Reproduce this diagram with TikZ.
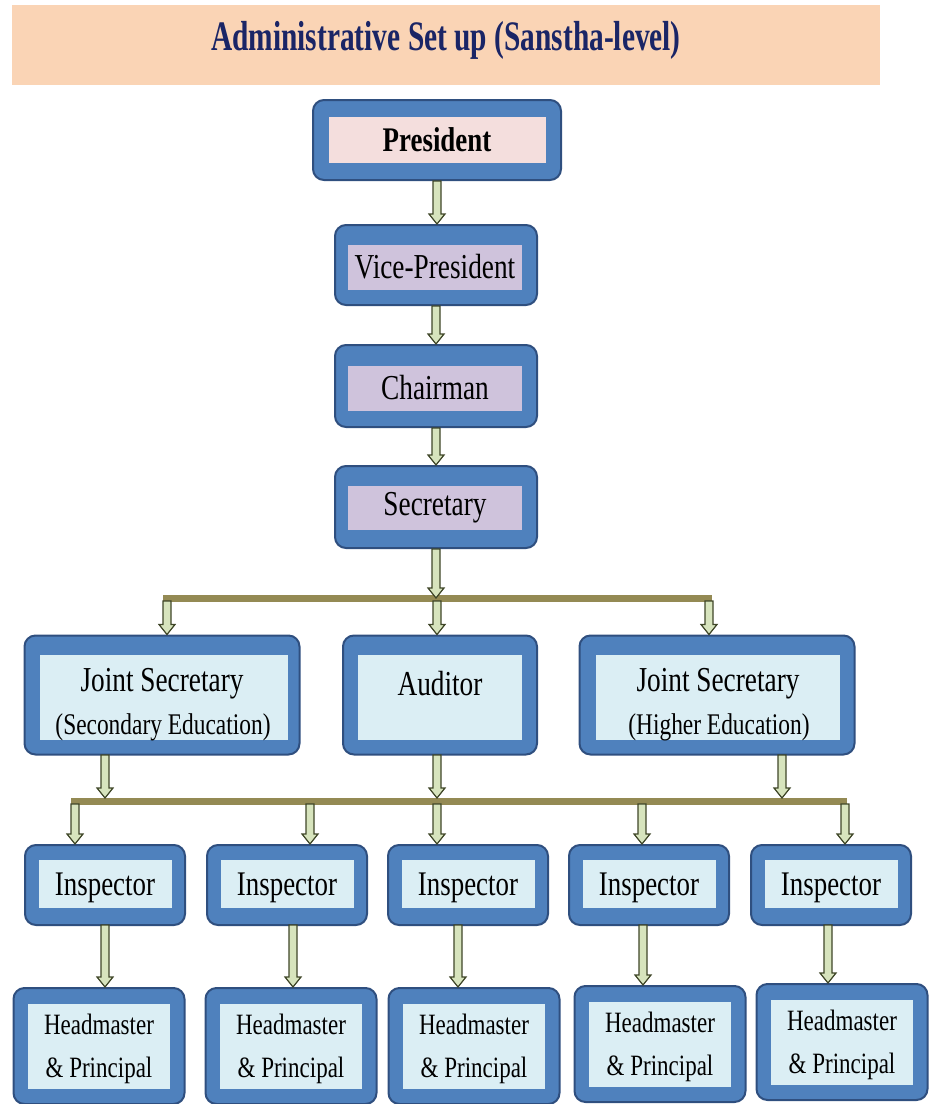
\documentclass[tikz,border=0pt]{standalone}
\usepackage{fontspec}
\setmainfont{Liberation Serif}[FakeStretch=0.78]
\newfontfamily\titlefont{Liberation Serif}[FakeStretch=0.70]
\usetikzlibrary{calc}

\definecolor{bandfill}{HTML}{FAD4B5}
\definecolor{titlecol}{HTML}{1A2566}
\definecolor{boxfill}{HTML}{4F81BD}
\definecolor{boxline}{HTML}{2F4F7F}
\definecolor{pinkfill}{HTML}{F4DEDD}
\definecolor{lilacfill}{HTML}{CFC3DC}
\definecolor{bluefill}{HTML}{DBEEF4}
\definecolor{barcol}{HTML}{948A54}
\definecolor{arrowfill}{HTML}{D7E4BD}
\definecolor{arrowline}{HTML}{3F4628}

\tikzset{
  outer/.style={draw=boxline, line width=2pt, fill=boxfill, rounded corners=11pt, inner sep=0pt},
  inner/.style={fill=#1, inner sep=0pt},
  bar/.style={draw=barcol, line width=7pt},
  blockarrow/.style={draw=arrowline, fill=arrowfill, line width=1.2pt},
}

% block arrow straight down, x taken from the first point
\newcommand{\dropto}[2]{%
  \draw[blockarrow] let \p1=(#1), \p2=(#2) in
    (\x1-4pt,\y1) -- (\x1-4pt,\y2+10pt) -- (\x1-8pt,\y2+10pt) -- (\x1,\y2)
    -- (\x1+8pt,\y2+10pt) -- (\x1+4pt,\y2+10pt) -- (\x1+4pt,\y1) -- cycle;}

\begin{document}
\begin{tikzpicture}[x=1pt, y=-1pt]
  \useasboundingbox (0,0) rectangle (930,1104);

  % heading
  \fill[bandfill] (12,5) rectangle (880,85);
  \node[text=titlecol, font=\titlefont\fontsize{42}{44}\selectfont\bfseries] (title) at (446,40) {Administrative Set up (Sanstha-level)};

  % top chain
  \node[outer, minimum width=248, minimum height=80] (pres) at (437,140) {};
  \node[inner=pinkfill, minimum width=217, minimum height=46, font=\fontsize{34.5}{36}\selectfont\bfseries] (pres-t) at (pres) {President};

  \node[outer, minimum width=202, minimum height=80] (vp) at (436,265) {};
  \node[inner=lilacfill, minimum width=174, minimum height=45, font=\fontsize{35}{37}\selectfont] (vp-t) at (435,267) {Vice-President};

  \node[outer, minimum width=202, minimum height=82] (chair) at (436,386) {};
  \node[inner=lilacfill, minimum width=174, minimum height=45, font=\fontsize{35}{37}\selectfont] (chair-t) at (435,388) {Chairman};

  \node[outer, minimum width=202, minimum height=82] (sec) at (436,507) {};
  \node[inner=lilacfill, minimum width=174, minimum height=44, font=\fontsize{35}{37}\selectfont] (sec-t) at (435,508) {Secretary};

  \dropto{pres.south}{vp.north}
  \dropto{vp.south}{chair.north}
  \dropto{chair.south}{sec.north}

  % second level
  \node[outer, minimum width=275, minimum height=119] (js1) at (162,695) {};
  \node[inner=bluefill, minimum width=248, minimum height=85] (js1-t) at (164,697) {};
  \node[font=\fontsize{35}{37}\selectfont] (js1-a) at (162,684) {Joint Secretary};
  \node[font=\fontsize{30}{32}\selectfont] (js1-b) at (163,727) {(Secondary Education)};

  \node[outer, minimum width=194, minimum height=119] (aud) at (440,695) {};
  \node[inner=bluefill, minimum width=164, minimum height=85] (aud-t) at (440,697) {};
  \node[font=\fontsize{35}{37}\selectfont] (aud-a) at (440,684) {Auditor};

  \node[outer, minimum width=275, minimum height=119] (js2) at (717,695) {};
  \node[inner=bluefill, minimum width=244, minimum height=85] (js2-t) at (718,697) {};
  \node[font=\fontsize{35}{37}\selectfont] (js2-a) at (718,684) {Joint Secretary};
  \node[font=\fontsize{30}{32}\selectfont] (js2-b) at (719,727) {(Higher Education)};

  \coordinate (bar1l) at (163,598);
  \coordinate (bar1r) at (712,598);
  \coordinate (bar1m) at (437,598);
  \draw[bar] (bar1l) -- (bar1r);
  \dropto{sec.south}{bar1m}
  \dropto{167,601}{js1.north}
  \dropto{437,601}{aud.north}
  \dropto{709,601}{js2.north}

  % inspectors
  \coordinate (bar2l) at (71,801);
  \coordinate (bar2r) at (847,801);
  \draw[bar] (bar2l) -- (bar2r);
  \dropto{105,755}{105,798}
  \dropto{437,755}{437,798}
  \dropto{782,755}{782,798}

  \foreach \k/\cx/\ax in {1/105/75, 2/287/310, 3/468/437, 4/649/642, 5/831/845} {
    \node[outer, minimum width=160, minimum height=80] (insp\k) at (\cx,885) {};
    \node[inner=bluefill, minimum width=133, minimum height=48, text depth=0pt, font=\fontsize{34.5}{36}\selectfont] (insp\k-t) at (\cx,884) {Inspector};
    \dropto{\ax,804}{insp\k.north}
  }

  % headmasters
  \foreach \k/\cx/\dx/\yy in {1/99/105/1046, 2/291/293/1046, 3/474/458/1046, 4/660/643/1044, 5/842/828/1042} {
    \node[outer, minimum width=171, minimum height=116] (head\k) at (\cx,\yy) {};
    \node[inner=bluefill, minimum width=142, minimum height=85, align=center, text depth=0pt, font=\fontsize{29.5}{43}\selectfont] (head\k-t) at (\cx,\yy) {Headmaster\\\& Principal};
    \dropto{\dx,925}{head\k.north}
  }
\end{tikzpicture}
\end{document}
